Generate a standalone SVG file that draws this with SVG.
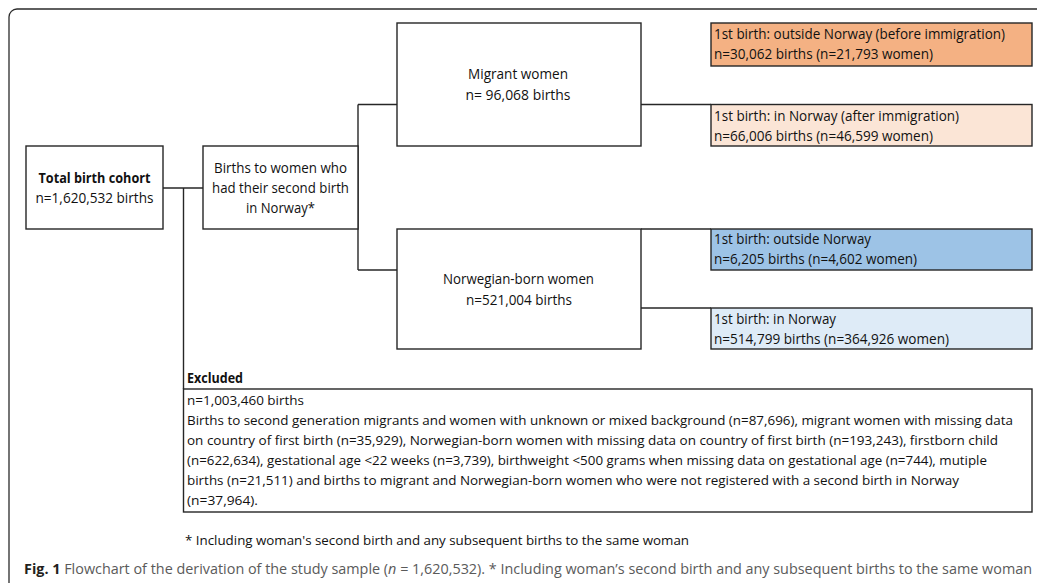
<svg xmlns="http://www.w3.org/2000/svg" width="1037" height="583" viewBox="0 0 1037 583">
<style>
.frame{fill:none;stroke:#2b2b2b;stroke-width:1.3}
.box{stroke:#262626;stroke-width:1.4}
.w{fill:#ffffff}
.or{fill:#F4B183}
.pe{fill:#FBE5D6}
.bl{fill:#9DC3E6}
.lb{fill:#DEEBF7}
.conn line{stroke:#262626;stroke-width:1.4}
text{font-family:"Open Sans","Liberation Sans",sans-serif;font-size:14px;fill:#111}
.s{font-size:13.5px}
.c{text-anchor:middle}
.b{font-weight:bold}
.cap{font-size:14px;fill:#5a5a5a}
.capb{font-weight:bold;fill:#231f20}
</style>
<rect width="1037" height="583" fill="#ffffff"/>
<path class="frame" d="M9,600 V17 A8,8 0 0 1 17,9 H1100"/>
<g id="connectors" class="conn">
<line x1="163" y1="188" x2="203" y2="188"/>
<line x1="183.5" y1="188" x2="183.5" y2="389"/>
<line x1="358" y1="104.5" x2="358" y2="270"/>
<line x1="358" y1="104.5" x2="397" y2="104.5"/>
<line x1="358" y1="270" x2="397" y2="270"/>
<line x1="641" y1="104.5" x2="711" y2="104.5"/>
<line x1="641" y1="229" x2="711" y2="229"/>
<line x1="641" y1="308" x2="711" y2="308"/>
</g>
<g id="total">
<rect class="box w" x="26" y="146" width="137" height="83"/>
<text class="c b" x="94.5" y="183" textLength="112" lengthAdjust="spacingAndGlyphs">Total birth cohort</text>
<text class="c" x="94.5" y="203" textLength="118" lengthAdjust="spacingAndGlyphs">n=1,620,532 births</text>
</g>
<g id="births">
<rect class="box w" x="203" y="146" width="155" height="83"/>
<text class="c" x="280.5" y="173" textLength="133" lengthAdjust="spacingAndGlyphs">Births to women who</text>
<text class="c" x="280.5" y="193" textLength="137" lengthAdjust="spacingAndGlyphs">had their second birth</text>
<text class="c" x="280.5" y="213" textLength="69" lengthAdjust="spacingAndGlyphs">in Norway*</text>
</g>
<g id="migrant">
<rect class="box w" x="397" y="23" width="244" height="123"/>
<text class="c" x="518" y="79" textLength="100" lengthAdjust="spacingAndGlyphs">Migrant women</text>
<text class="c" x="518" y="100" textLength="105" lengthAdjust="spacingAndGlyphs">n= 96,068 births</text>
</g>
<g id="norwegian">
<rect class="box w" x="397" y="229" width="244" height="120"/>
<text class="c" x="518.5" y="284" textLength="151" lengthAdjust="spacingAndGlyphs">Norwegian-born women</text>
<text class="c" x="519" y="305" textLength="106" lengthAdjust="spacingAndGlyphs">n=521,004 births</text>
</g>
<g id="mig-outside">
<rect class="box or" x="711" y="23" width="321" height="43"/>
<text x="714" y="39" textLength="291" lengthAdjust="spacingAndGlyphs">1st birth: outside Norway (before immigration)</text>
<text x="714" y="59" textLength="219" lengthAdjust="spacingAndGlyphs">n=30,062 births (n=21,793 women)</text>
</g>
<g id="mig-norway">
<rect class="box pe" x="711" y="104.5" width="321" height="41.5"/>
<text x="714" y="121" textLength="245" lengthAdjust="spacingAndGlyphs">1st birth: in Norway (after immigration)</text>
<text x="714" y="141" textLength="219" lengthAdjust="spacingAndGlyphs">n=66,006 births (n=46,599 women)</text>
</g>
<g id="nor-outside">
<rect class="box bl" x="711" y="229" width="321" height="41"/>
<text x="714" y="244" textLength="157" lengthAdjust="spacingAndGlyphs">1st birth: outside Norway</text>
<text x="714" y="264" textLength="203" lengthAdjust="spacingAndGlyphs">n=6,205 births (n=4,602 women)</text>
</g>
<g id="nor-norway">
<rect class="box lb" x="711" y="308" width="321" height="41"/>
<text x="714" y="324" textLength="122" lengthAdjust="spacingAndGlyphs">1st birth: in Norway</text>
<text x="714" y="344" textLength="235" lengthAdjust="spacingAndGlyphs">n=514,799 births (n=364,926 women)</text>
</g>
<g id="excluded">
<text class="b" x="187" y="383" textLength="56" lengthAdjust="spacingAndGlyphs">Excluded</text>
<rect class="box w" x="183.5" y="389" width="848.5" height="123"/>
<text class="s" x="187" y="405" textLength="117" lengthAdjust="spacingAndGlyphs">n=1,003,460 births</text>
<text class="s" x="187" y="425" textLength="826" lengthAdjust="spacingAndGlyphs">Births to second generation migrants and women with unknown or mixed background (n=87,696), migrant women with missing data</text>
<text class="s" x="187" y="445" textLength="811" lengthAdjust="spacingAndGlyphs">on country of first birth (n=35,929), Norwegian-born women with missing data on country of first birth (n=193,243), firstborn child</text>
<text class="s" x="187" y="465" textLength="800" lengthAdjust="spacingAndGlyphs">(n=622,634), gestational age &lt;22 weeks (n=3,739), birthweight &lt;500 grams when missing data on gestational age (n=744), mutiple</text>
<text class="s" x="187" y="485" textLength="772" lengthAdjust="spacingAndGlyphs">births (n=21,511) and births to migrant and Norwegian-born women who were not registered with a second birth in Norway</text>
<text class="s" x="187" y="505" textLength="71" lengthAdjust="spacingAndGlyphs">(n=37,964).</text>
</g>
<text id="footnote" class="s" x="185" y="545" textLength="504" lengthAdjust="spacingAndGlyphs">* Including woman's second birth and any subsequent births to the same woman</text>
<text id="caption" class="cap" x="24" y="574" textLength="1008" lengthAdjust="spacingAndGlyphs"><tspan class="capb">Fig. 1</tspan> Flowchart of the derivation of the study sample (<tspan font-style="italic">n</tspan> = 1,620,532). * Including woman’s second birth and any subsequent births to the same woman</text>
</svg>
